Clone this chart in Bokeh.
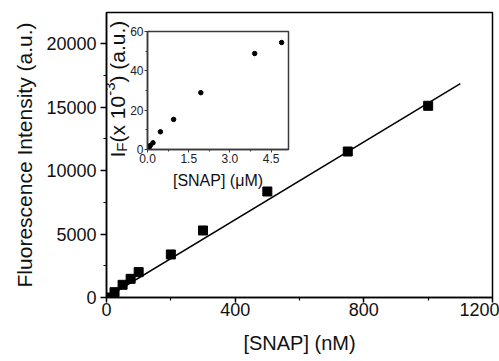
from math import pi
from bokeh.plotting import figure
from bokeh.models import FixedTicker, Label, Range1d, NumeralTickFormatter
from bokeh.embed import file_html
from bokeh.resources import INLINE

# ---- main panel data ----
snap_nM = [0, 25, 50, 75, 100, 200, 300, 500, 750, 1000]
intensity = [0, 420, 1000, 1470, 2000, 3390, 5280, 8350, 11500, 15100]
fit_x = [0, 1100]
fit_y = [0, 16850]
x_ticks = [0, 400, 800, 1200]
x_minor = [200, 600, 1000]
y_ticks = [0, 5000, 10000, 15000, 20000]
y_minor = [2500, 7500, 12500, 17500]

# ---- inset data ----
inset_uM = [0, 0.025, 0.05, 0.075, 0.1, 0.2, 0.47, 0.95, 1.94, 3.9, 4.88]
inset_I = [0, 0.42, 1.0, 1.47, 2.0, 3.39, 9.0, 15.3, 28.9, 48.8, 54.4]
inset_x_ticks = [0, 1.5, 3.0, 4.5]
inset_x_minor = [0.75, 2.25, 3.75]
inset_y_ticks = [0, 20, 40, 60]
inset_y_minor = [10, 30, 50]

FONT = "Liberation Sans"

p = figure(width=499, height=361, x_range=Range1d(0, 1200), y_range=Range1d(0, 22450),
           output_backend="svg", toolbar_location=None,
           min_border_left=106, min_border_right=7, min_border_top=12, min_border_bottom=64)
p.xgrid.visible = False
p.ygrid.visible = False
p.outline_line_color = "black"
p.outline_line_width = 1.5
p.outline_line_alpha = 1

for ax in (p.xaxis[0], p.yaxis[0]):
    ax.axis_line_width = 1.5
    ax.axis_line_color = "black"
    ax.major_tick_line_width = 1.5
    ax.major_tick_line_color = "black"
    ax.minor_tick_line_width = 1.2
    ax.minor_tick_line_color = "black"
    ax.major_tick_in = 0
    ax.minor_tick_in = 0
    ax.minor_tick_out = 3
    ax.major_label_text_font = FONT
    ax.major_label_text_font_size = "18px"
    ax.major_label_text_color = "#111111"
    ax.axis_label_text_font = FONT
    ax.axis_label_text_font_style = "normal"
    ax.axis_label_text_color = "#111111"

p.xaxis.ticker = FixedTicker(ticks=x_ticks, minor_ticks=x_minor)
p.yaxis.ticker = FixedTicker(ticks=y_ticks, minor_ticks=y_minor)
p.xaxis.major_tick_out = 5
p.yaxis.major_tick_out = 6
p.xaxis.major_label_standoff = 0
p.yaxis.major_label_standoff = 4
p.xaxis.axis_label = "[SNAP] (nM)"
p.yaxis.axis_label = "Fluorescence Intensity (a.u.)"
p.xaxis.axis_label_text_font_size = "20px"
p.yaxis.axis_label_text_font_size = "21px"
p.xaxis.axis_label_standoff = 13
p.yaxis.axis_label_standoff = 7

p.line(fit_x, fit_y, line_color="black", line_width=1.5)
p.scatter(snap_nM, intensity, marker="square", size=9, color="black")

# inset y label I_F(x 10^-3) (a.u.), drawn on the main panel (inside its frame)
parts = [("I", 21, 0, 0.278), ("F", 15, 4, 0.611), ("(x 10", 21, 0, 2.223),
         ("-3", 15, -8, 0.889), (") (a.u.)", 21, 0, 2.945)]
pos = 140.0
for txt, fs, shift, em in parts:
    p.add_layout(Label(x=0, y=0, x_units="data", y_units="data",
                       x_offset=11 + shift, y_offset=pos, text=txt,
                       angle=pi / 2, angle_units="rad", text_align="left",
                       text_baseline="alphabetic",
                       text_font=FONT, text_font_size=f"{fs}px", text_color="#111111"))
    pos += fs * em

# ---- inset (separate root, absolutely positioned over the main panel) ----
q = figure(width=187, height=174, x_range=Range1d(0, 5.13), y_range=Range1d(0, 60),
           output_backend="svg", toolbar_location=None,
           min_border_left=40, min_border_right=6, min_border_top=10, min_border_bottom=46,
           background_fill_alpha=0, border_fill_alpha=0,
           styles={"position": "absolute", "left": "107px", "top": "21px"})
q.xgrid.visible = False
q.ygrid.visible = False
q.outline_line_color = "#3a3a3a"
q.outline_line_width = 1.5
q.outline_line_alpha = 1
for ax in (q.xaxis[0], q.yaxis[0]):
    ax.axis_line_width = 1.5
    ax.axis_line_color = "#3a3a3a"
    ax.major_tick_line_color = "#3a3a3a"
    ax.minor_tick_line_color = "#3a3a3a"
    ax.major_tick_in = 0
    ax.minor_tick_in = 0
    ax.major_tick_out = 3
    ax.minor_tick_out = 2
    ax.major_label_standoff = 1
    ax.major_label_text_font = FONT
    ax.major_label_text_font_size = "12px"
    ax.major_label_text_color = "#222222"
    ax.axis_label_text_font = FONT
    ax.axis_label_text_font_size = "16px"
    ax.axis_label_text_font_style = "normal"
    ax.axis_label_text_color = "#111111"
q.xaxis.ticker = FixedTicker(ticks=inset_x_ticks, minor_ticks=inset_x_minor)
q.yaxis.ticker = FixedTicker(ticks=inset_y_ticks, minor_ticks=inset_y_minor)
q.xaxis.formatter = NumeralTickFormatter(format="0.0")
q.xaxis.axis_label = "[SNAP] (\u03bcM)"
q.xaxis.axis_label_standoff = 6

q.scatter(inset_uM, inset_I, size=4.5, color="black")

open("out.html", "w").write(file_html([p, q], INLINE))
